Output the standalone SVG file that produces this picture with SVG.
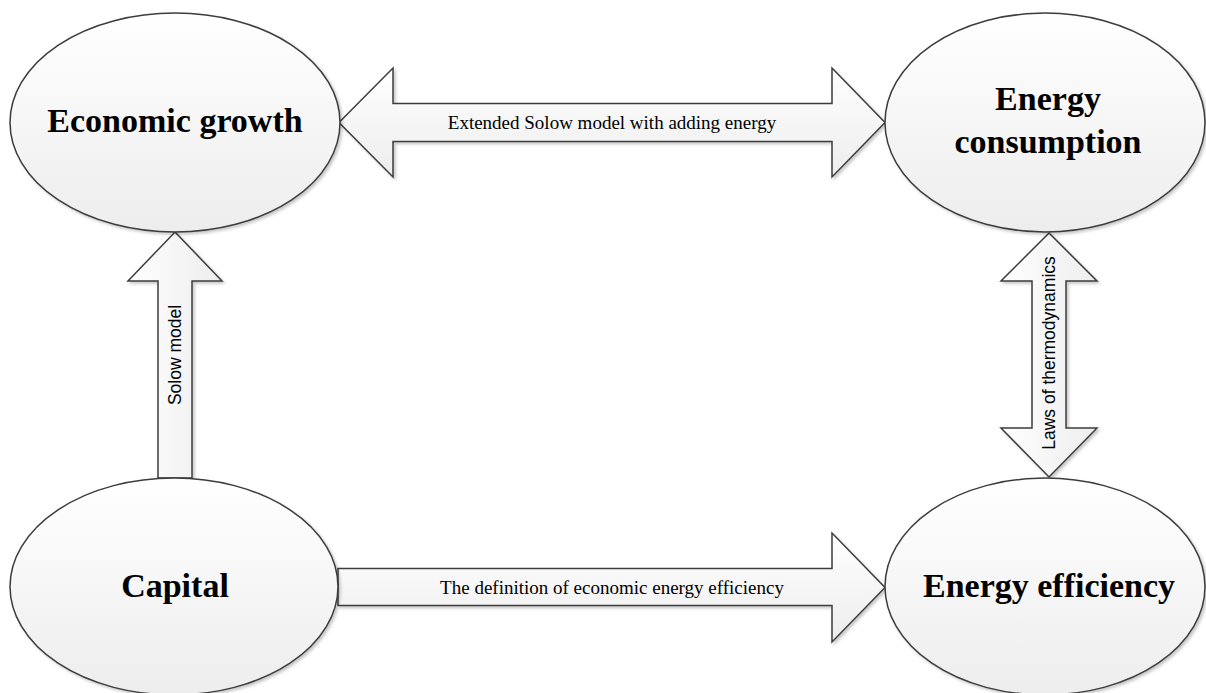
<svg xmlns="http://www.w3.org/2000/svg" width="1206" height="693" viewBox="0 0 1206 693">
  <defs>
    <linearGradient id="gfill" x1="0" y1="0" x2="0" y2="1">
      <stop offset="0" stop-color="#ffffff"/>
      <stop offset="1" stop-color="#ededed"/>
    </linearGradient>
    <linearGradient id="gfillv" x1="0" y1="0" x2="1" y2="0">
      <stop offset="0" stop-color="#ffffff"/>
      <stop offset="1" stop-color="#ededed"/>
    </linearGradient>
    <filter id="shadow" x="-10%" y="-10%" width="125%" height="125%">
      <feDropShadow dx="2" dy="2" stdDeviation="1.5" flood-color="#000000" flood-opacity="0.22"/>
    </filter>
  </defs>
  <style>
    .node { fill: url(#gfill); stroke: #3c3c3c; stroke-width: 1.5; filter: url(#shadow); }
    .arrow { fill: url(#gfill); stroke: #3c3c3c; stroke-width: 1.5; stroke-linejoin: miter; filter: url(#shadow); }
    .arrowv { fill: url(#gfillv); stroke: #3c3c3c; stroke-width: 1.5; stroke-linejoin: miter; filter: url(#shadow); }
    .nlabel { font-family: "Liberation Serif", "Times New Roman", serif; font-weight: bold; font-size: 34px; fill: #000; text-anchor: middle; }
    .elabel { font-family: "Liberation Serif", "Times New Roman", serif; font-size: 19px; fill: #000; text-anchor: middle; }
    .vlabel { font-family: "Liberation Sans", Arial, sans-serif; font-size: 17.5px; fill: #000; text-anchor: middle; }
  </style>
  <rect width="1206" height="693" fill="#ffffff"/>

  <g id="connectors">
    <g id="edge-growth-consumption">
      <path class="arrow" d="M339,122.5 L393,68 L393,103.5 L832,103.5 L832,68 L885,122.5 L832,177 L832,141.5 L393,141.5 L393,177 Z"/>
      <text class="elabel" x="612" y="129">Extended Solow model with adding energy</text>
    </g>
    <g id="edge-capital-efficiency">
      <path class="arrow" d="M338,568.5 L832,568.5 L832,533 L885,587.5 L832,642 L832,605.5 L338,605.5 Z"/>
      <text class="elabel" x="612" y="594">The definition of economic energy efficiency</text>
    </g>
    <g id="edge-capital-growth">
      <path class="arrowv" d="M175,232 L222,281 L192,281 L192,478 L158,478 L158,281 L128,281 Z"/>
      <text class="vlabel" transform="translate(175,355) rotate(-90)" dy="0.35em">Solow model</text>
    </g>
    <g id="edge-consumption-efficiency">
      <path class="arrowv" d="M1049,233 L1097,281 L1066,281 L1066,428 L1097,428 L1049,477 L1001,428 L1032,428 L1032,281 L1001,281 Z"/>
      <text class="vlabel" transform="translate(1049,353) rotate(-90)" dy="0.35em">Laws of thermodynamics</text>
    </g>
  </g>

  <g id="node-economic-growth">
    <ellipse class="node" cx="175" cy="122.5" rx="165" ry="109.5"/>
    <text class="nlabel" x="175" y="132">Economic growth</text>
  </g>
  <g id="node-energy-consumption">
    <ellipse class="node" cx="1045" cy="122.5" rx="160" ry="109.5"/>
    <text class="nlabel" x="1048" y="110">Energy</text>
    <text class="nlabel" x="1048" y="153">consumption</text>
  </g>
  <g id="node-capital">
    <ellipse class="node" cx="174" cy="586.5" rx="164" ry="108.5"/>
    <text class="nlabel" x="175" y="597">Capital</text>
  </g>
  <g id="node-energy-efficiency">
    <ellipse class="node" cx="1045" cy="586.5" rx="160" ry="108.5"/>
    <text class="nlabel" x="1049" y="597">Energy efficiency</text>
  </g>
</svg>
